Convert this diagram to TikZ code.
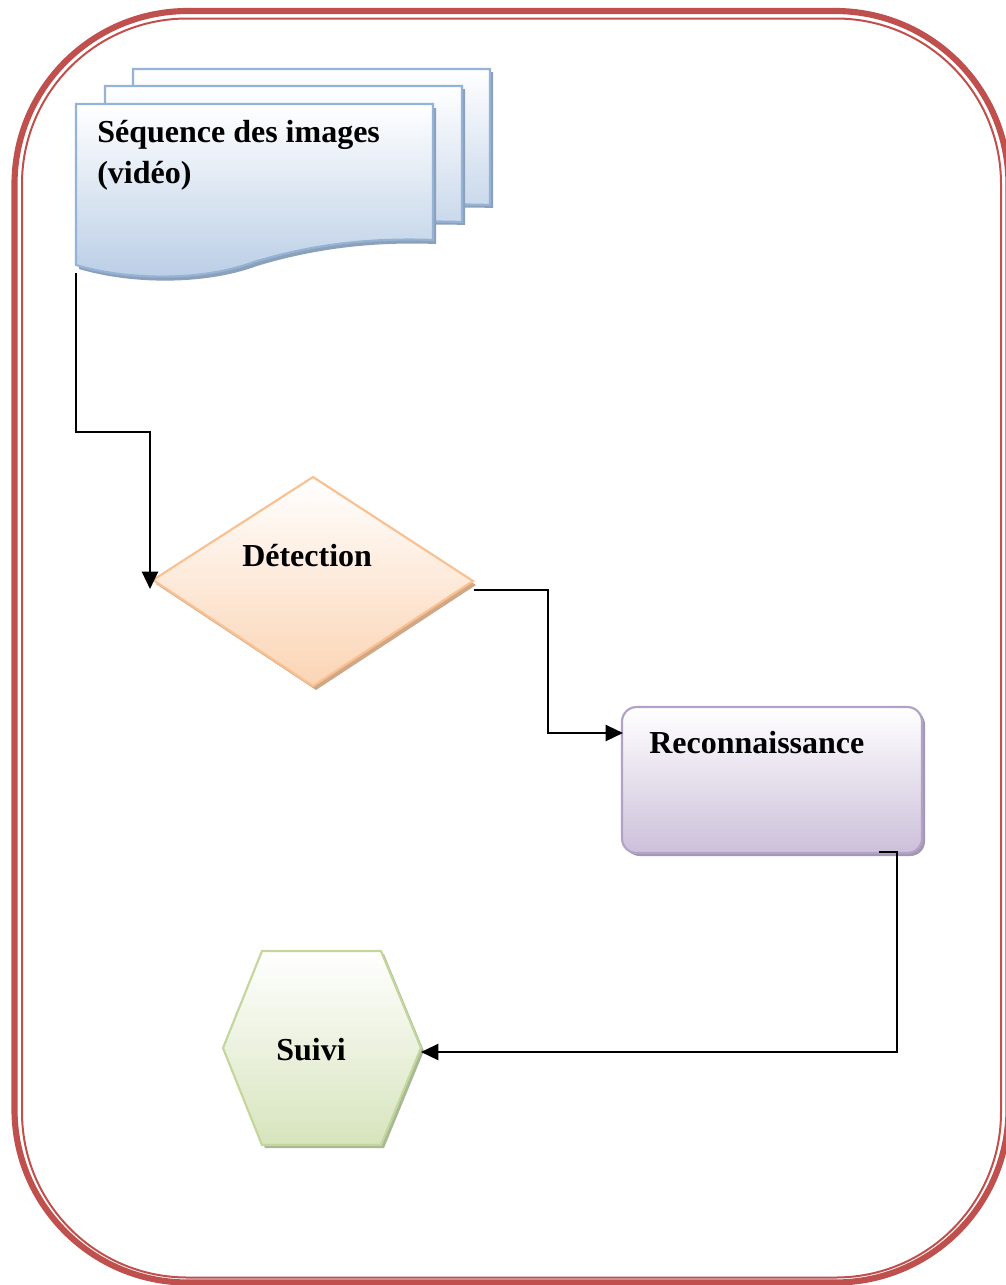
\documentclass[tikz,border=0pt]{standalone}
\usepackage{fontspec}
\setmainfont{Liberation Serif}
\usetikzlibrary{arrows.meta}
\definecolor{bord}{HTML}{C0504D}
\definecolor{docline}{HTML}{95B3D7}
\definecolor{docfill}{HTML}{B9CDE5}
\definecolor{docshad}{HTML}{8DA0BA}
\definecolor{detline}{HTML}{FAC090}
\definecolor{detfill}{HTML}{FBD4B4}
\definecolor{detshad}{HTML}{D0A887}
\definecolor{recline}{HTML}{B3A2C7}
\definecolor{recfill}{HTML}{CCC0DA}
\definecolor{recshad}{HTML}{A597B4}
\definecolor{hexline}{HTML}{C3D69B}
\definecolor{hexfill}{HTML}{D7E4BD}
\definecolor{hexshad}{HTML}{A9B895}
\newcommand\docshape{(0,0) -- (357,0) -- (357,136) .. controls (304,134) and (244,138) .. (178,158) .. controls (124,178) and (50,176) .. (0,161) -- cycle}
\newcommand\hexshape{(262,951) -- (381,951) -- (421,1048) -- (381,1145) -- (262,1145) -- (223,1048) -- cycle}
\newcommand\diashape{(153,580) -- (313,477) -- (473,581) -- (313,686) -- cycle}
\newcommand\recshape{(622,707) rectangle (922,853)}
\begin{document}
\begin{tikzpicture}[x=0.75pt,y=-0.75pt,
  conn/.style={line width=1.7pt, -{Triangle[length=13pt,width=12pt]}},
  lbl/.style={font=\fontsize{24}{31}\selectfont\bfseries, inner sep=0pt, anchor=base west},
  shapeline/.style={line width=1.6pt},
]
\useasboundingbox (0,0) rectangle (1006,1285);
\fill[white] (0,0) rectangle (1006,1285);
% page border
\draw[bord, line width=4.6pt, rounded corners=130pt] (14.5,11) rectangle (1008.5,1282.5);
\draw[bord, line width=1.5pt, rounded corners=124pt] (22,18.5) rectangle (1001,1277.5);
% documents
\fill[docshad, shift={(136,72)}] \docshape;
\draw[docline, shapeline, top color=white, bottom color=docfill, shift={(133,69)}] \docshape;
\fill[docshad, shift={(108,89)}] \docshape;
\draw[docline, shapeline, top color=white, bottom color=docfill, shift={(105,86)}] \docshape;
\fill[docshad, shift={(79,108)}] \docshape;
\draw[docline, shapeline, top color=white, bottom color=docfill, shift={(76,104)}] \docshape;
% diamond
\fill[detshad, shift={(3,4)}] \diashape;
\draw[detline, shapeline, top color=white, bottom color=detfill] \diashape;
% rounded rectangle
\fill[recshad, rounded corners=11pt, shift={(3,3)}] \recshape;
\draw[recline, shapeline, rounded corners=11pt, top color=white, bottom color=recfill] \recshape;
% hexagon
\fill[hexshad, shift={(3,3)}] \hexshape;
\draw[hexline, shapeline, top color=white, bottom color=hexfill] \hexshape;
% anchors
\coordinate (seq-s) at (76,273);
\coordinate (k0) at (0,432);
\coordinate (det-w) at (150,589);
\coordinate (det-e) at (474,590);
\coordinate (k1) at (548,0);
\coordinate (rec-w) at (623,733);
\coordinate (rec-out) at (879,852);
\coordinate (k2) at (897,0);
\coordinate (hex-e) at (421,1052);
% connectors
\draw[conn] (seq-s) -- (seq-s |- k0) -| (det-w);
\draw[conn] (det-e) -- (k1 |- det-e) |- (rec-w);
\draw[conn] (rec-out) -- (k2 |- rec-out) |- (hex-e);
% labels
\node[lbl] (seq) at (97,142) {\begin{tabular}[t]{@{}l@{}}Séquence des images\\(vidéo)\end{tabular}};
\node[lbl] (det) at (242,566) {Détection};
\node[lbl] (rec) at (649,753) {Reconnaissance};
\node[lbl] (suivi) at (276,1060) {Suivi};
\end{tikzpicture}
\end{document}
